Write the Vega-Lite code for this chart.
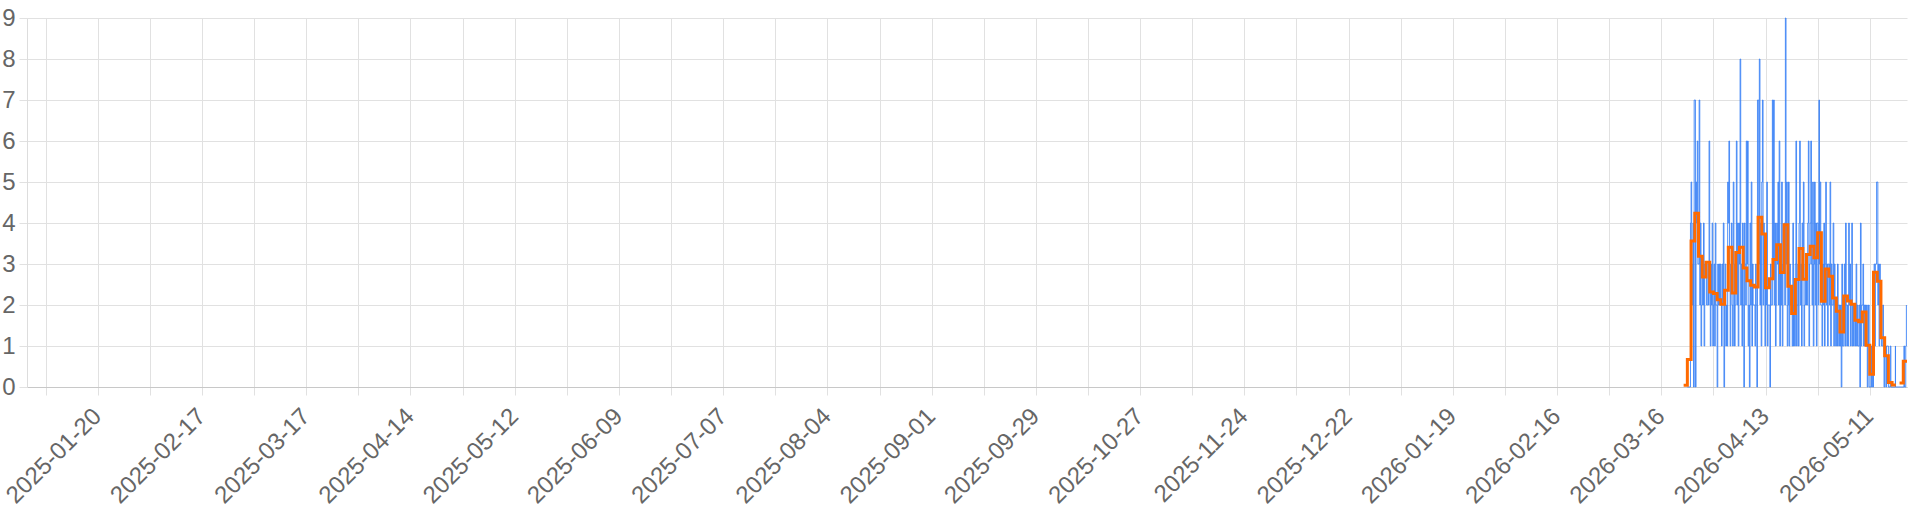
{
  "$schema": "https://vega.github.io/schema/vega-lite/v6.json",
  "width": 1880,
  "height": 369,
  "autosize": {"type": "none"},
  "padding": {"left": 27, "top": 18, "right": 13, "bottom": 125},
  "config": {
    "view": {"stroke": null},
    "axis": {
      "labelFont": "Liberation Sans",
      "labelFontSize": 24,
      "labelColor": "#666666",
      "gridColor": "#e1e1e1",
      "tickColor": "#e1e1e1",
      "domainColor": "#cccccc",
      "tickSize": 8
    }
  },
  "datasets": {
    "hourly": [
      {"t": "2026-03-23T00:00", "v": 0}, {"t": "2026-03-23T04:00", "v": 0}, {"t": "2026-03-23T08:00", "v": 0}, {"t": "2026-03-23T12:00", "v": 0}, {"t": "2026-03-23T16:00", "v": 0}, {"t": "2026-03-23T20:00", "v": 4},
      {"t": "2026-03-24T00:00", "v": 5}, {"t": "2026-03-24T04:00", "v": 3}, {"t": "2026-03-24T08:00", "v": 2}, {"t": "2026-03-24T12:00", "v": 4}, {"t": "2026-03-24T16:00", "v": 0}, {"t": "2026-03-24T20:00", "v": 7},
      {"t": "2026-03-25T00:00", "v": 7}, {"t": "2026-03-25T04:00", "v": 0}, {"t": "2026-03-25T08:00", "v": 5}, {"t": "2026-03-25T12:00", "v": 4}, {"t": "2026-03-25T16:00", "v": 6}, {"t": "2026-03-25T20:00", "v": 3},
      {"t": "2026-03-26T00:00", "v": 3}, {"t": "2026-03-26T04:00", "v": 7}, {"t": "2026-03-26T08:00", "v": 2}, {"t": "2026-03-26T12:00", "v": 4}, {"t": "2026-03-26T16:00", "v": 1}, {"t": "2026-03-26T20:00", "v": 2},
      {"t": "2026-03-27T00:00", "v": 3}, {"t": "2026-03-27T04:00", "v": 2}, {"t": "2026-03-27T08:00", "v": 4}, {"t": "2026-03-27T12:00", "v": 1}, {"t": "2026-03-27T16:00", "v": 3}, {"t": "2026-03-27T20:00", "v": 3},
      {"t": "2026-03-28T00:00", "v": 3}, {"t": "2026-03-28T04:00", "v": 2}, {"t": "2026-03-28T08:00", "v": 2}, {"t": "2026-03-28T12:00", "v": 3}, {"t": "2026-03-28T16:00", "v": 2}, {"t": "2026-03-28T20:00", "v": 6},
      {"t": "2026-03-29T00:00", "v": 3}, {"t": "2026-03-29T04:00", "v": 1}, {"t": "2026-03-29T08:00", "v": 3}, {"t": "2026-03-29T12:00", "v": 2}, {"t": "2026-03-29T16:00", "v": 4}, {"t": "2026-03-29T20:00", "v": 1},
      {"t": "2026-03-30T00:00", "v": 2}, {"t": "2026-03-30T04:00", "v": 3}, {"t": "2026-03-30T08:00", "v": 1}, {"t": "2026-03-30T12:00", "v": 4}, {"t": "2026-03-30T16:00", "v": 2}, {"t": "2026-03-30T20:00", "v": 2},
      {"t": "2026-03-31T00:00", "v": 0}, {"t": "2026-03-31T04:00", "v": 3}, {"t": "2026-03-31T08:00", "v": 2}, {"t": "2026-03-31T12:00", "v": 3}, {"t": "2026-03-31T16:00", "v": 2}, {"t": "2026-03-31T20:00", "v": 3},
      {"t": "2026-04-01T00:00", "v": 2}, {"t": "2026-04-01T04:00", "v": 1}, {"t": "2026-04-01T08:00", "v": 3}, {"t": "2026-04-01T12:00", "v": 2}, {"t": "2026-04-01T16:00", "v": 4}, {"t": "2026-04-01T20:00", "v": 0},
      {"t": "2026-04-02T00:00", "v": 2}, {"t": "2026-04-02T04:00", "v": 3}, {"t": "2026-04-02T08:00", "v": 1}, {"t": "2026-04-02T12:00", "v": 2}, {"t": "2026-04-02T16:00", "v": 1}, {"t": "2026-04-02T20:00", "v": 5},
      {"t": "2026-04-03T00:00", "v": 4}, {"t": "2026-04-03T04:00", "v": 6}, {"t": "2026-04-03T08:00", "v": 3}, {"t": "2026-04-03T12:00", "v": 1}, {"t": "2026-04-03T16:00", "v": 3}, {"t": "2026-04-03T20:00", "v": 4},
      {"t": "2026-04-04T00:00", "v": 2}, {"t": "2026-04-04T04:00", "v": 1}, {"t": "2026-04-04T08:00", "v": 5}, {"t": "2026-04-04T12:00", "v": 3}, {"t": "2026-04-04T16:00", "v": 1}, {"t": "2026-04-04T20:00", "v": 2},
      {"t": "2026-04-05T00:00", "v": 3}, {"t": "2026-04-05T04:00", "v": 6}, {"t": "2026-04-05T08:00", "v": 2}, {"t": "2026-04-05T12:00", "v": 4}, {"t": "2026-04-05T16:00", "v": 1}, {"t": "2026-04-05T20:00", "v": 4},
      {"t": "2026-04-06T00:00", "v": 3}, {"t": "2026-04-06T04:00", "v": 8}, {"t": "2026-04-06T08:00", "v": 2}, {"t": "2026-04-06T12:00", "v": 3}, {"t": "2026-04-06T16:00", "v": 1}, {"t": "2026-04-06T20:00", "v": 4},
      {"t": "2026-04-07T00:00", "v": 2}, {"t": "2026-04-07T04:00", "v": 0}, {"t": "2026-04-07T08:00", "v": 4}, {"t": "2026-04-07T12:00", "v": 3}, {"t": "2026-04-07T16:00", "v": 2}, {"t": "2026-04-07T20:00", "v": 6},
      {"t": "2026-04-08T00:00", "v": 3}, {"t": "2026-04-08T04:00", "v": 6}, {"t": "2026-04-08T08:00", "v": 1}, {"t": "2026-04-08T12:00", "v": 2}, {"t": "2026-04-08T16:00", "v": 0}, {"t": "2026-04-08T20:00", "v": 4},
      {"t": "2026-04-09T00:00", "v": 2}, {"t": "2026-04-09T04:00", "v": 5}, {"t": "2026-04-09T08:00", "v": 1}, {"t": "2026-04-09T12:00", "v": 3}, {"t": "2026-04-09T16:00", "v": 2}, {"t": "2026-04-09T20:00", "v": 2},
      {"t": "2026-04-10T00:00", "v": 2}, {"t": "2026-04-10T04:00", "v": 1}, {"t": "2026-04-10T08:00", "v": 3}, {"t": "2026-04-10T12:00", "v": 2}, {"t": "2026-04-10T16:00", "v": 0}, {"t": "2026-04-10T20:00", "v": 7},
      {"t": "2026-04-11T00:00", "v": 7}, {"t": "2026-04-11T04:00", "v": 3}, {"t": "2026-04-11T08:00", "v": 8}, {"t": "2026-04-11T12:00", "v": 2}, {"t": "2026-04-11T16:00", "v": 4}, {"t": "2026-04-11T20:00", "v": 1},
      {"t": "2026-04-12T00:00", "v": 5}, {"t": "2026-04-12T04:00", "v": 7}, {"t": "2026-04-12T08:00", "v": 2}, {"t": "2026-04-12T12:00", "v": 4}, {"t": "2026-04-12T16:00", "v": 3}, {"t": "2026-04-12T20:00", "v": 1},
      {"t": "2026-04-13T00:00", "v": 3}, {"t": "2026-04-13T04:00", "v": 2}, {"t": "2026-04-13T08:00", "v": 5}, {"t": "2026-04-13T12:00", "v": 1}, {"t": "2026-04-13T16:00", "v": 2}, {"t": "2026-04-13T20:00", "v": 2},
      {"t": "2026-04-14T00:00", "v": 2}, {"t": "2026-04-14T04:00", "v": 0}, {"t": "2026-04-14T08:00", "v": 3}, {"t": "2026-04-14T12:00", "v": 2}, {"t": "2026-04-14T16:00", "v": 2}, {"t": "2026-04-14T20:00", "v": 7},
      {"t": "2026-04-15T00:00", "v": 3}, {"t": "2026-04-15T04:00", "v": 7}, {"t": "2026-04-15T08:00", "v": 2}, {"t": "2026-04-15T12:00", "v": 4}, {"t": "2026-04-15T16:00", "v": 1}, {"t": "2026-04-15T20:00", "v": 2},
      {"t": "2026-04-16T00:00", "v": 4}, {"t": "2026-04-16T04:00", "v": 3}, {"t": "2026-04-16T08:00", "v": 5}, {"t": "2026-04-16T12:00", "v": 2}, {"t": "2026-04-16T16:00", "v": 6}, {"t": "2026-04-16T20:00", "v": 1},
      {"t": "2026-04-17T00:00", "v": 3}, {"t": "2026-04-17T04:00", "v": 2}, {"t": "2026-04-17T08:00", "v": 5}, {"t": "2026-04-17T12:00", "v": 1}, {"t": "2026-04-17T16:00", "v": 3}, {"t": "2026-04-17T20:00", "v": 3},
      {"t": "2026-04-18T00:00", "v": 4}, {"t": "2026-04-18T04:00", "v": 2}, {"t": "2026-04-18T08:00", "v": 9}, {"t": "2026-04-18T12:00", "v": 3}, {"t": "2026-04-18T16:00", "v": 5}, {"t": "2026-04-18T20:00", "v": 1},
      {"t": "2026-04-19T00:00", "v": 2}, {"t": "2026-04-19T04:00", "v": 5}, {"t": "2026-04-19T08:00", "v": 1}, {"t": "2026-04-19T12:00", "v": 3}, {"t": "2026-04-19T16:00", "v": 2}, {"t": "2026-04-19T20:00", "v": 2},
      {"t": "2026-04-20T00:00", "v": 2}, {"t": "2026-04-20T04:00", "v": 1}, {"t": "2026-04-20T08:00", "v": 4}, {"t": "2026-04-20T12:00", "v": 1}, {"t": "2026-04-20T16:00", "v": 2}, {"t": "2026-04-20T20:00", "v": 1},
      {"t": "2026-04-21T00:00", "v": 3}, {"t": "2026-04-21T04:00", "v": 6}, {"t": "2026-04-21T08:00", "v": 1}, {"t": "2026-04-21T12:00", "v": 2}, {"t": "2026-04-21T16:00", "v": 3}, {"t": "2026-04-21T20:00", "v": 1},
      {"t": "2026-04-22T00:00", "v": 4}, {"t": "2026-04-22T04:00", "v": 6}, {"t": "2026-04-22T08:00", "v": 2}, {"t": "2026-04-22T12:00", "v": 3}, {"t": "2026-04-22T16:00", "v": 1}, {"t": "2026-04-22T20:00", "v": 4},
      {"t": "2026-04-23T00:00", "v": 3}, {"t": "2026-04-23T04:00", "v": 5}, {"t": "2026-04-23T08:00", "v": 1}, {"t": "2026-04-23T12:00", "v": 2}, {"t": "2026-04-23T16:00", "v": 3}, {"t": "2026-04-23T20:00", "v": 2},
      {"t": "2026-04-24T00:00", "v": 3}, {"t": "2026-04-24T04:00", "v": 2}, {"t": "2026-04-24T08:00", "v": 4}, {"t": "2026-04-24T12:00", "v": 6}, {"t": "2026-04-24T16:00", "v": 1}, {"t": "2026-04-24T20:00", "v": 3},
      {"t": "2026-04-25T00:00", "v": 4}, {"t": "2026-04-25T04:00", "v": 6}, {"t": "2026-04-25T08:00", "v": 3}, {"t": "2026-04-25T12:00", "v": 2}, {"t": "2026-04-25T16:00", "v": 5}, {"t": "2026-04-25T20:00", "v": 1},
      {"t": "2026-04-26T00:00", "v": 3}, {"t": "2026-04-26T04:00", "v": 5}, {"t": "2026-04-26T08:00", "v": 2}, {"t": "2026-04-26T12:00", "v": 4}, {"t": "2026-04-26T16:00", "v": 1}, {"t": "2026-04-26T20:00", "v": 4},
      {"t": "2026-04-27T00:00", "v": 4}, {"t": "2026-04-27T04:00", "v": 2}, {"t": "2026-04-27T08:00", "v": 7}, {"t": "2026-04-27T12:00", "v": 3}, {"t": "2026-04-27T16:00", "v": 5}, {"t": "2026-04-27T20:00", "v": 2},
      {"t": "2026-04-28T00:00", "v": 2}, {"t": "2026-04-28T04:00", "v": 1}, {"t": "2026-04-28T08:00", "v": 3}, {"t": "2026-04-28T12:00", "v": 2}, {"t": "2026-04-28T16:00", "v": 4}, {"t": "2026-04-28T20:00", "v": 1},
      {"t": "2026-04-29T00:00", "v": 3}, {"t": "2026-04-29T04:00", "v": 5}, {"t": "2026-04-29T08:00", "v": 2}, {"t": "2026-04-29T12:00", "v": 3}, {"t": "2026-04-29T16:00", "v": 1}, {"t": "2026-04-29T20:00", "v": 3},
      {"t": "2026-04-30T00:00", "v": 3}, {"t": "2026-04-30T04:00", "v": 2}, {"t": "2026-04-30T08:00", "v": 5}, {"t": "2026-04-30T12:00", "v": 1}, {"t": "2026-04-30T16:00", "v": 3}, {"t": "2026-04-30T20:00", "v": 2},
      {"t": "2026-05-01T00:00", "v": 2}, {"t": "2026-05-01T04:00", "v": 4}, {"t": "2026-05-01T08:00", "v": 1}, {"t": "2026-05-01T12:00", "v": 3}, {"t": "2026-05-01T16:00", "v": 2}, {"t": "2026-05-01T20:00", "v": 1},
      {"t": "2026-05-02T00:00", "v": 2}, {"t": "2026-05-02T04:00", "v": 1}, {"t": "2026-05-02T08:00", "v": 3}, {"t": "2026-05-02T12:00", "v": 2}, {"t": "2026-05-02T16:00", "v": 1}, {"t": "2026-05-02T20:00", "v": 2},
      {"t": "2026-05-03T00:00", "v": 1}, {"t": "2026-05-03T04:00", "v": 2}, {"t": "2026-05-03T08:00", "v": 0}, {"t": "2026-05-03T12:00", "v": 3}, {"t": "2026-05-03T16:00", "v": 1}, {"t": "2026-05-03T20:00", "v": 1},
      {"t": "2026-05-04T00:00", "v": 2}, {"t": "2026-05-04T04:00", "v": 3}, {"t": "2026-05-04T08:00", "v": 1}, {"t": "2026-05-04T12:00", "v": 4}, {"t": "2026-05-04T16:00", "v": 2}, {"t": "2026-05-04T20:00", "v": 1},
      {"t": "2026-05-05T00:00", "v": 2}, {"t": "2026-05-05T04:00", "v": 1}, {"t": "2026-05-05T08:00", "v": 4}, {"t": "2026-05-05T12:00", "v": 2}, {"t": "2026-05-05T16:00", "v": 3}, {"t": "2026-05-05T20:00", "v": 1},
      {"t": "2026-05-06T00:00", "v": 2}, {"t": "2026-05-06T04:00", "v": 4}, {"t": "2026-05-06T08:00", "v": 1}, {"t": "2026-05-06T12:00", "v": 2}, {"t": "2026-05-06T16:00", "v": 1}, {"t": "2026-05-06T20:00", "v": 2},
      {"t": "2026-05-07T00:00", "v": 2}, {"t": "2026-05-07T04:00", "v": 1}, {"t": "2026-05-07T08:00", "v": 3}, {"t": "2026-05-07T12:00", "v": 1}, {"t": "2026-05-07T16:00", "v": 2}, {"t": "2026-05-07T20:00", "v": 1},
      {"t": "2026-05-08T00:00", "v": 1}, {"t": "2026-05-08T04:00", "v": 2}, {"t": "2026-05-08T08:00", "v": 0}, {"t": "2026-05-08T12:00", "v": 4}, {"t": "2026-05-08T16:00", "v": 1}, {"t": "2026-05-08T20:00", "v": 2},
      {"t": "2026-05-09T00:00", "v": 2}, {"t": "2026-05-09T04:00", "v": 3}, {"t": "2026-05-09T08:00", "v": 1}, {"t": "2026-05-09T12:00", "v": 2}, {"t": "2026-05-09T16:00", "v": 1}, {"t": "2026-05-09T20:00", "v": 2},
      {"t": "2026-05-10T00:00", "v": 1}, {"t": "2026-05-10T04:00", "v": 2}, {"t": "2026-05-10T08:00", "v": 0}, {"t": "2026-05-10T12:00", "v": 1}, {"t": "2026-05-10T16:00", "v": 2}, {"t": "2026-05-10T20:00", "v": 0},
      {"t": "2026-05-11T00:00", "v": 0}, {"t": "2026-05-11T04:00", "v": 0}, {"t": "2026-05-11T08:00", "v": 1}, {"t": "2026-05-11T12:00", "v": 0}, {"t": "2026-05-11T16:00", "v": 1}, {"t": "2026-05-11T20:00", "v": 0},
      {"t": "2026-05-12T00:00", "v": 2}, {"t": "2026-05-12T04:00", "v": 3}, {"t": "2026-05-12T08:00", "v": 1}, {"t": "2026-05-12T12:00", "v": 3}, {"t": "2026-05-12T16:00", "v": 3}, {"t": "2026-05-12T20:00", "v": 5},
      {"t": "2026-05-13T00:00", "v": 5}, {"t": "2026-05-13T04:00", "v": 2}, {"t": "2026-05-13T08:00", "v": 3}, {"t": "2026-05-13T12:00", "v": 1}, {"t": "2026-05-13T16:00", "v": 3}, {"t": "2026-05-13T20:00", "v": 2},
      {"t": "2026-05-14T00:00", "v": 2}, {"t": "2026-05-14T04:00", "v": 1}, {"t": "2026-05-14T08:00", "v": 1}, {"t": "2026-05-14T12:00", "v": 2}, {"t": "2026-05-14T16:00", "v": 1}, {"t": "2026-05-14T20:00", "v": 0},
      {"t": "2026-05-15T00:00", "v": 1}, {"t": "2026-05-15T04:00", "v": 1}, {"t": "2026-05-15T08:00", "v": 0}, {"t": "2026-05-15T12:00", "v": 1}, {"t": "2026-05-15T16:00", "v": 1}, {"t": "2026-05-15T20:00", "v": 1},
      {"t": "2026-05-16T00:00", "v": 0}, {"t": "2026-05-16T12:00", "v": 1}, {"t": "2026-05-16T16:00", "v": 0},
      {"t": "2026-05-17T21:00", "v": 1}, {"t": "2026-05-17T22:00", "v": 0},
      {"t": "2026-05-20T04:00", "v": 1}, {"t": "2026-05-20T08:00", "v": 0}, {"t": "2026-05-20T16:00", "v": 1}, {"t": "2026-05-20T20:00", "v": 2}
    ],
    "daily": [
      {"t": "2026-03-22T00:00", "v": 0.04}, {"t": "2026-03-23T00:00", "v": 0.67}, {"t": "2026-03-24T00:00", "v": 3.56},
      {"t": "2026-03-25T00:00", "v": 4.24}, {"t": "2026-03-26T00:00", "v": 3.19}, {"t": "2026-03-27T00:00", "v": 2.68},
      {"t": "2026-03-28T00:00", "v": 3.04}, {"t": "2026-03-29T00:00", "v": 2.32}, {"t": "2026-03-30T00:00", "v": 2.28},
      {"t": "2026-03-31T00:00", "v": 2.13}, {"t": "2026-04-01T00:00", "v": 2.02}, {"t": "2026-04-02T00:00", "v": 2.36},
      {"t": "2026-04-03T00:00", "v": 3.41}, {"t": "2026-04-04T00:00", "v": 2.29}, {"t": "2026-04-05T00:00", "v": 3.28},
      {"t": "2026-04-06T00:00", "v": 3.41}, {"t": "2026-04-07T00:00", "v": 2.9}, {"t": "2026-04-08T00:00", "v": 2.59},
      {"t": "2026-04-09T00:00", "v": 2.48}, {"t": "2026-04-10T00:00", "v": 2.44}, {"t": "2026-04-11T00:00", "v": 4.14},
      {"t": "2026-04-12T00:00", "v": 3.73}, {"t": "2026-04-13T00:00", "v": 2.42}, {"t": "2026-04-14T00:00", "v": 2.64},
      {"t": "2026-04-15T00:00", "v": 3.11}, {"t": "2026-04-16T00:00", "v": 3.47}, {"t": "2026-04-17T00:00", "v": 2.79},
      {"t": "2026-04-18T00:00", "v": 3.96}, {"t": "2026-04-19T00:00", "v": 2.46}, {"t": "2026-04-20T00:00", "v": 1.79},
      {"t": "2026-04-21T00:00", "v": 2.62}, {"t": "2026-04-22T00:00", "v": 3.38}, {"t": "2026-04-23T00:00", "v": 2.63},
      {"t": "2026-04-24T00:00", "v": 3.23}, {"t": "2026-04-25T00:00", "v": 3.43}, {"t": "2026-04-26T00:00", "v": 3.15},
      {"t": "2026-04-27T00:00", "v": 3.76}, {"t": "2026-04-28T00:00", "v": 2.09}, {"t": "2026-04-29T00:00", "v": 2.88},
      {"t": "2026-04-30T00:00", "v": 2.7}, {"t": "2026-05-01T00:00", "v": 2.17}, {"t": "2026-05-02T00:00", "v": 1.85},
      {"t": "2026-05-03T00:00", "v": 1.34}, {"t": "2026-05-04T00:00", "v": 2.22}, {"t": "2026-05-05T00:00", "v": 2.1},
      {"t": "2026-05-06T00:00", "v": 2.02}, {"t": "2026-05-07T00:00", "v": 1.63}, {"t": "2026-05-08T00:00", "v": 1.59},
      {"t": "2026-05-09T00:00", "v": 1.83}, {"t": "2026-05-10T00:00", "v": 1.02}, {"t": "2026-05-11T00:00", "v": 0.31},
      {"t": "2026-05-12T00:00", "v": 2.8}, {"t": "2026-05-13T00:00", "v": 2.58}, {"t": "2026-05-14T00:00", "v": 1.2},
      {"t": "2026-05-15T00:00", "v": 0.76}, {"t": "2026-05-16T00:00", "v": 0.11}, {"t": "2026-05-17T00:00", "v": 0.05},
      {"t": "2026-05-18T00:00", "v": 0.05}, {"t": "2026-05-18T12:00", "v": null},
      {"t": "2026-05-19T00:00", "v": 0.1}, {"t": "2026-05-20T00:00", "v": 0.63}, {"t": "2026-05-21T00:00", "v": 0.63}
    ]
  },
  "layer": [
    {
      "data": {"name": "hourly"},
      "mark": {"type": "line", "interpolate": "step-after", "color": "#3b82f6", "strokeWidth": 0.9},
      "encoding": {
        "x": {
          "field": "t",
          "type": "temporal",
          "title": null,
          "scale": {"domain": [{"year": 2025, "month": 1, "date": 1}, {"year": 2026, "month": 5, "date": 21}]},
          "axis": {
            "grid": true,
            "labelAngle": -45,
            "labelAlign": "right",
            "labelBaseline": "top",
            "labelPadding": 9,
            "labelOffset": -9,
            "labelOverlap": false,
            "labelFlush": false,
            "domainColor": "#c8c8c8",
            "labelExpr": "(round((datum.value - datetime(2025, 0, 20)) / 86400000) % 28 == 0) ? timeFormat(datum.value, '%Y-%m-%d') : ''",
            "values": [
              {"year": 2025, "month": 1, "date": 6}, {"year": 2025, "month": 1, "date": 13}, {"year": 2025, "month": 1, "date": 20}, {"year": 2025, "month": 1, "date": 27},
              {"year": 2025, "month": 2, "date": 3}, {"year": 2025, "month": 2, "date": 10}, {"year": 2025, "month": 2, "date": 17}, {"year": 2025, "month": 2, "date": 24},
              {"year": 2025, "month": 3, "date": 3}, {"year": 2025, "month": 3, "date": 10}, {"year": 2025, "month": 3, "date": 17}, {"year": 2025, "month": 3, "date": 24}, {"year": 2025, "month": 3, "date": 31},
              {"year": 2025, "month": 4, "date": 7}, {"year": 2025, "month": 4, "date": 14}, {"year": 2025, "month": 4, "date": 21}, {"year": 2025, "month": 4, "date": 28},
              {"year": 2025, "month": 5, "date": 5}, {"year": 2025, "month": 5, "date": 12}, {"year": 2025, "month": 5, "date": 19}, {"year": 2025, "month": 5, "date": 26},
              {"year": 2025, "month": 6, "date": 2}, {"year": 2025, "month": 6, "date": 9}, {"year": 2025, "month": 6, "date": 16}, {"year": 2025, "month": 6, "date": 23}, {"year": 2025, "month": 6, "date": 30},
              {"year": 2025, "month": 7, "date": 7}, {"year": 2025, "month": 7, "date": 14}, {"year": 2025, "month": 7, "date": 21}, {"year": 2025, "month": 7, "date": 28},
              {"year": 2025, "month": 8, "date": 4}, {"year": 2025, "month": 8, "date": 11}, {"year": 2025, "month": 8, "date": 18}, {"year": 2025, "month": 8, "date": 25},
              {"year": 2025, "month": 9, "date": 1}, {"year": 2025, "month": 9, "date": 8}, {"year": 2025, "month": 9, "date": 15}, {"year": 2025, "month": 9, "date": 22}, {"year": 2025, "month": 9, "date": 29},
              {"year": 2025, "month": 10, "date": 6}, {"year": 2025, "month": 10, "date": 13}, {"year": 2025, "month": 10, "date": 20}, {"year": 2025, "month": 10, "date": 27},
              {"year": 2025, "month": 11, "date": 3}, {"year": 2025, "month": 11, "date": 10}, {"year": 2025, "month": 11, "date": 17}, {"year": 2025, "month": 11, "date": 24},
              {"year": 2025, "month": 12, "date": 1}, {"year": 2025, "month": 12, "date": 8}, {"year": 2025, "month": 12, "date": 15}, {"year": 2025, "month": 12, "date": 22}, {"year": 2025, "month": 12, "date": 29},
              {"year": 2026, "month": 1, "date": 5}, {"year": 2026, "month": 1, "date": 12}, {"year": 2026, "month": 1, "date": 19}, {"year": 2026, "month": 1, "date": 26},
              {"year": 2026, "month": 2, "date": 2}, {"year": 2026, "month": 2, "date": 9}, {"year": 2026, "month": 2, "date": 16}, {"year": 2026, "month": 2, "date": 23},
              {"year": 2026, "month": 3, "date": 2}, {"year": 2026, "month": 3, "date": 9}, {"year": 2026, "month": 3, "date": 16}, {"year": 2026, "month": 3, "date": 23}, {"year": 2026, "month": 3, "date": 30},
              {"year": 2026, "month": 4, "date": 6}, {"year": 2026, "month": 4, "date": 13}, {"year": 2026, "month": 4, "date": 20}, {"year": 2026, "month": 4, "date": 27},
              {"year": 2026, "month": 5, "date": 4}, {"year": 2026, "month": 5, "date": 11}, {"year": 2026, "month": 5, "date": 18}
            ]
          }
        },
        "y": {
          "field": "v",
          "type": "quantitative",
          "title": null,
          "scale": {"domain": [0, 9], "nice": false},
          "axis": {"values": [0, 1, 2, 3, 4, 5, 6, 7, 8, 9], "labelPadding": 4, "domainColor": "#dddddd"}
        }
      }
    },
    {
      "data": {"name": "daily"},
      "mark": {"type": "line", "interpolate": "step-after", "color": "#ff6a00", "strokeWidth": 3},
      "encoding": {
        "x": {"field": "t", "type": "temporal"},
        "y": {"field": "v", "type": "quantitative"}
      }
    }
  ]
}
